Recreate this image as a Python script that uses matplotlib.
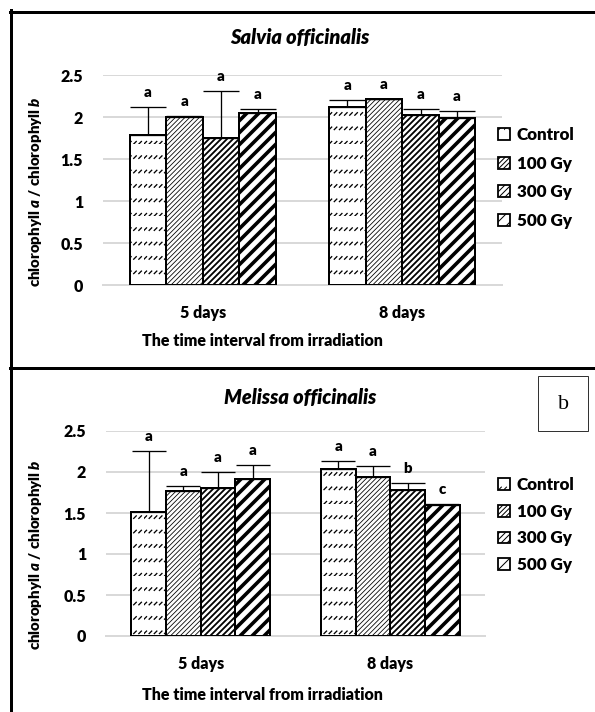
import numpy as np
import matplotlib
matplotlib.use("Agg")
import matplotlib.pyplot as plt
import matplotlib.hatch as mhatch
from matplotlib.path import Path
from matplotlib.lines import Line2D

# data
groups = ["5 days", "8 days"]
treatments = ["Control", "100 Gy", "300 Gy", "500 Gy"]

salvia_mean = [[1.79, 2.00, 1.75, 2.05],
               [2.12, 2.21, 2.02, 1.99]]
salvia_err = [[0.33, 0.01, 0.56, 0.04],
              [0.08, 0.01, 0.08, 0.08]]
salvia_letters = [["a", "a", "a", "a"],
                  ["a", "a", "a", "a"]]

melissa_mean = [[1.51, 1.77, 1.81, 1.91],
                [2.04, 1.94, 1.78, 1.60]]
melissa_err = [[0.75, 0.06, 0.19, 0.17],
               [0.09, 0.13, 0.08, 0.01]]
melissa_letters = [["a", "a", "a", "a"],
                   ["a", "a", "b", "c"]]

yticks = [0, 0.5, 1, 1.5, 2, 2.5]


# rows of short slanted dashes for the Control bars ('.' in a hatch string)
class DashRows(mhatch.HatchPatternBase):
    def __init__(self, hatch, density):
        n = hatch.count('.')
        self.rows = 5 * n
        self.cols = 14 * n
        self.num_vertices = 2 * self.rows * self.cols

    def set_vertices_and_codes(self, vertices, codes):
        gx, gy = np.meshgrid(np.arange(self.cols) / self.cols,
                             np.arange(self.rows) / self.rows)
        gx = gx.ravel()
        gy = gy.ravel()
        d = 0.035
        vertices[0::2, 0] = gx
        vertices[0::2, 1] = gy
        vertices[1::2, 0] = gx + d
        vertices[1::2, 1] = gy + d
        codes[0::2] = Path.MOVETO
        codes[1::2] = Path.LINETO


mhatch._hatch_types = [DashRows if t is mhatch.SmallFilledCircles else t
                       for t in mhatch._hatch_types]

hatches = ['.', '/////', '////', '//']
hatch_lw = [1.3, 0.8, 1.8, 3.6]

FW = 'heavy'
plt.rcParams['font.family'] = ['Lato', 'DejaVu Sans']
plt.rcParams['font.weight'] = FW
plt.rcParams['mathtext.fontset'] = 'custom'
plt.rcParams['mathtext.it'] = 'Lato:italic:heavy'
plt.rcParams['mathtext.rm'] = 'Lato:heavy'

W, H = 595, 712
fig = plt.figure(figsize=(W / 72, H / 72), dpi=72)


def px_axes(left, top, right, bottom):
    return fig.add_axes([left / W, 1 - bottom / H, (right - left) / W, (bottom - top) / H])


def panel(ax, title, title_y, means, errs, letters, cap, ylab_y, xlab_y, leg_y, leg_space):
    width = 0.183
    x = np.arange(len(groups))
    means = np.array(means)
    errs = np.array(errs)
    for i, t in enumerate(treatments):
        xs = x + (i - 1.5) * width
        with plt.rc_context({'hatch.linewidth': hatch_lw[i]}):
            bars = ax.bar(xs, means[:, i], width, color='white', edgecolor='black',
                          linewidth=2, hatch=hatches[i], label=t, zorder=3)
        for b in bars:
            if hasattr(b, 'set_hatch_linewidth'):
                b.set_hatch_linewidth(hatch_lw[i])
        ax.errorbar(xs, means[:, i], yerr=[np.zeros(len(groups)), errs[:, i]],
                    fmt='none', ecolor='black', elinewidth=1.3, capsize=cap,
                    capthick=1.3, zorder=4)
        for j in range(len(groups)):
            ax.annotate(letters[j][i], xy=(xs[j], means[j, i] + errs[j, i]),
                        xytext=(0, 10), textcoords='offset points',
                        ha='center', va='baseline', fontsize=15, fontweight=FW)

    ax.set_xlim(-0.5, 1.5)
    ax.set_ylim(0, 2.5)
    ax.set_yticks(yticks)
    ax.set_yticklabels(['%g' % v for v in yticks], fontweight=FW)
    ax.set_xticks(x)
    ax.set_xticklabels(groups, fontweight=FW)
    ax.tick_params(length=0, labelsize=16, pad=20)
    ax.tick_params(axis='x', pad=20)
    ax.grid(axis='y', color='#d9d9d9', linewidth=2, zorder=0)
    ax.set_axisbelow(True)
    for s in ['top', 'right', 'left']:
        ax.spines[s].set_visible(False)
    ax.spines['bottom'].set_color('#d9d9d9')
    ax.spines['bottom'].set_linewidth(2)

    # positions in pixels converted to axes fractions
    bb = ax.get_position()
    l, r = bb.x0 * W, bb.x1 * W
    t, b = (1 - bb.y1) * H, (1 - bb.y0) * H

    ax.set_title(title, fontsize=20, fontweight=FW, style='italic',
                 y=(b - title_y) / (b - t), va='center', pad=0)
    ax.title.set_x((300 - l) / (r - l))
    ax.set_ylabel('chlorophyll $a$ / chlorophyll $b$', fontsize=15, va='center',
                  fontweight=FW)
    ax.set_xlabel('The time interval from irradiation', fontsize=16, va='center',
                  fontweight=FW)
    ax.yaxis.set_label_coords((36 - l) / (r - l), (b - ylab_y) / (b - t))
    ax.xaxis.set_label_coords((262 - l) / (r - l), (b - xlab_y) / (b - t))

    leg = ax.legend(loc='center left', bbox_to_anchor=(498 / W, 1 - leg_y / H),
                    bbox_transform=fig.transFigure, frameon=False,
                    prop={'size': 17, 'weight': FW},
                    handlelength=0.7, handleheight=0.7, handletextpad=0.4,
                    labelspacing=leg_space, borderpad=0, borderaxespad=0)
    for h in leg.legend_handles:
        h.set_linewidth(1.8)


ax1 = px_axes(103, 75, 502, 285)
panel(ax1, 'Salvia officinalis', 37, salvia_mean, salvia_err, salvia_letters,
      18, 192, 341, 178, 0.73)

ax2 = px_axes(106, 431, 485, 636)
panel(ax2, 'Melissa officinalis', 398, melissa_mean, melissa_err, melissa_letters,
      17, 555, 695, 525, 0.64)

# frame lines around the panels
fig.add_artist(Line2D([10 / W, 1], [1 - 11.5 / H, 1 - 11.5 / H], color='black', lw=3))
fig.add_artist(Line2D([11 / W, 11 / W], [1 - 10 / H, 0], color='black', lw=3))
fig.add_artist(Line2D([10 / W, 1], [1 - 367.5 / H, 1 - 367.5 / H], color='black', lw=3))

# panel tag "b"
fig.add_artist(plt.Rectangle((538 / W, 1 - 431 / H), 50 / W, 55 / H,
                             transform=fig.transFigure, fill=False,
                             edgecolor='#333333', lw=1))
fig.text(563 / W, 1 - 404 / H, 'b', ha='center', va='center', fontsize=22,
         family='Liberation Serif', fontweight='normal')

fig.savefig('out.png', dpi=72)
